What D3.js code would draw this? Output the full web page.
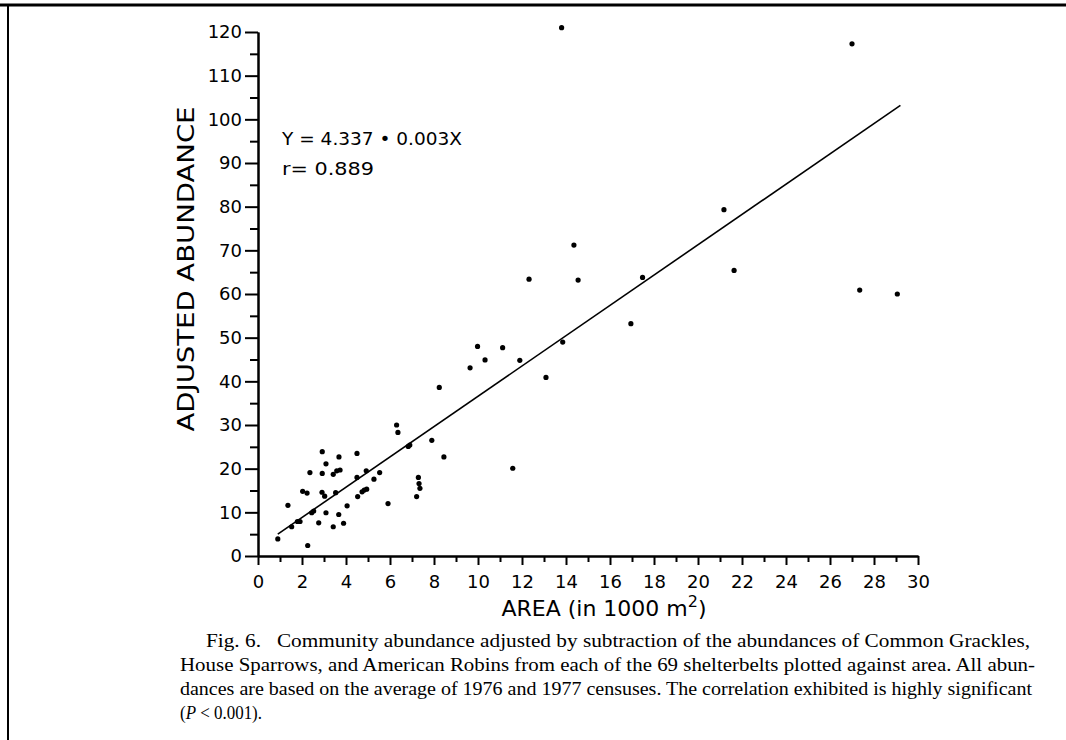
<!DOCTYPE html>
<head>
<meta charset="utf-8">
<script src="https://d3js.org/d3.v7.min.js"></script>
</head>
<style>
body { margin: 0; background: #fff; }
.axis path, .axis line { stroke: #000; stroke-width: 2px; }
.axis text { font-family: "DejaVu Sans", sans-serif; font-size: 18px; fill: #000; }
.label { font-family: "DejaVu Sans", sans-serif; fill: #000; }
.caption { font-family: "Liberation Serif", serif; font-size: 19px; fill: #000; }
.fitline { fill: none; stroke: #000; stroke-width: 1.6px; }
</style>
<body>
<script>
// area in 1000 m2, adjusted abundance
var area = [0.9, 1.36, 1.53, 1.79, 1.91, 2.26, 2.36, 2.03, 2.23, 2.44, 2.53, 2.92, 3.09, 2.92, 2.91,
  3.03, 2.76, 3.09, 3.42, 3.42, 3.58, 3.73, 3.68, 3.53, 3.67, 3.89, 4.05, 4.5, 4.5, 4.53,
  4.73, 4.83, 4.94, 4.92, 5.27, 5.53, 5.91, 6.3, 6.36, 6.83, 6.9, 7.29, 7.32, 7.36, 7.21,
  7.9, 8.45, 8.24, 9.64, 9.98, 10.32, 11.12, 11.9, 11.58, 13.09, 13.85, 16.95, 12.32, 14.36,
  14.55, 17.48, 21.18, 21.64, 27.0, 27.35, 29.06, 13.8];
var abundance = [3.9, 11.6, 6.7, 7.9, 7.9, 2.4, 19.1, 14.8, 14.4, 9.9, 10.3, 23.9, 21.1, 18.9, 14.6,
  13.7, 7.6, 9.9, 6.7, 18.7, 19.5, 19.7, 22.7, 14.5, 9.5, 7.5, 11.5, 23.5, 18.0, 13.6,
  14.7, 15.1, 15.3, 19.5, 17.6, 19.1, 12.0, 30.0, 28.3, 25.1, 25.4, 18.0, 16.6, 15.5, 13.6,
  26.5, 22.7, 38.6, 43.1, 48.0, 44.9, 47.7, 44.8, 20.1, 40.9, 49.0, 53.2, 63.4, 71.2,
  63.2, 63.8, 79.3, 65.4, 117.3, 60.9, 60.0, 121];
var lineX = [0.9, 29.2];
var lineY = [5.0, 103.2];
var xMajor = d3.range(0, 31, 2);
var xMinor = d3.range(1, 30, 2);
var yMajor = d3.range(0, 121, 10);
var yMinor = d3.range(5, 120, 10);
var equation = ["Y = 4.337 \u2022 0.003X", "r= 0.889"];
var caption = [
  "Fig. 6.   Community abundance adjusted by subtraction of the abundances of Common Grackles,",
  "House Sparrows, and American Robins from each of the 69 shelterbelts plotted against area. All abun-",
  "dances are based on the average of 1976 and 1977 censuses. The correlation exhibited is highly significant"
];

var width = 1066, height = 740;
var x = d3.scaleLinear().domain([0, 30]).range([258, 918]);
var y = d3.scaleLinear().domain([0, 120]).range([556, 32]);

var svg = d3.select("body").append("svg")
    .attr("width", width)
    .attr("height", height);
svg.append("rect").attr("width", width).attr("height", height).attr("fill", "#fff");

// frame edges of the scanned page
svg.append("line").attr("x1", 0).attr("x2", width).attr("y1", 5).attr("y2", 5)
    .attr("stroke", "#000").attr("stroke-width", 3);
svg.append("line").attr("x1", 8).attr("x2", 8).attr("y1", 5).attr("y2", height)
    .attr("stroke", "#000").attr("stroke-width", 2);

// axes
svg.append("g").attr("class", "axis")
    .attr("transform", "translate(0," + y(0) + ")")
    .call(d3.axisBottom(x).tickValues(xMinor).tickSize(6).tickFormat("").tickSizeOuter(0));
svg.append("g").attr("class", "axis")
    .attr("transform", "translate(0," + y(0) + ")")
    .call(d3.axisBottom(x).tickValues(xMajor).tickSize(9).tickPadding(10).tickSizeOuter(0));
svg.append("g").attr("class", "axis")
    .attr("transform", "translate(" + x(0) + ",0)")
    .call(d3.axisLeft(y).tickValues(yMinor).tickSize(8).tickFormat("").tickSizeOuter(0));
svg.append("g").attr("class", "axis")
    .attr("transform", "translate(" + x(0) + ",0)")
    .call(d3.axisLeft(y).tickValues(yMajor).tickSize(13).tickPadding(3).tickSizeOuter(0));

// axis titles
svg.append("text").attr("class", "label")
    .attr("transform", "translate(194," + ((y(0) + y(120)) / 2 - 25) + ") rotate(-90)")
    .attr("text-anchor", "middle")
    .attr("font-size", 23)
    .attr("textLength", 325)
    .attr("lengthAdjust", "spacingAndGlyphs")
    .text("ADJUSTED ABUNDANCE");
var xt = svg.append("text").attr("class", "label")
    .attr("x", 604).attr("y", 616)
    .attr("text-anchor", "middle")
    .attr("font-size", 22);
xt.append("tspan").text("AREA  (in 1000 m");
xt.append("tspan").attr("dy", -9).attr("font-size", 16).text("2");
xt.append("tspan").attr("dy", 9).text(")");

// equation
var eqW = [180, 92];
svg.selectAll(".eq").data(equation).enter().append("text")
    .attr("class", "label eq")
    .attr("x", 282)
    .attr("y", function(d, i) { return 145 + i * 30; })
    .attr("font-size", 18)
    .attr("textLength", function(d, i) { return eqW[i]; })
    .attr("lengthAdjust", "spacingAndGlyphs")
    .text(function(d) { return d; });

// regression line
svg.append("line").attr("class", "fitline")
    .attr("x1", x(lineX[0])).attr("y1", y(lineY[0]))
    .attr("x2", x(lineX[1])).attr("y2", y(lineY[1]));

// points
svg.selectAll(".pt").data(area).enter().append("circle")
    .attr("class", "pt")
    .attr("cx", function(d) { return x(d); })
    .attr("cy", function(d, i) { return y(abundance[i]); })
    .attr("r", 2.6)
    .attr("fill", "#000");

// caption
var capX = [206, 180, 180];
var capW = [824, 855, 852];
svg.selectAll(".caption").data(caption).enter().append("text")
    .attr("class", "caption")
    .attr("x", function(d, i) { return capX[i]; })
    .attr("y", function(d, i) { return 647 + i * 24; })
    .attr("textLength", function(d, i) { return capW[i]; })
    .attr("lengthAdjust", "spacingAndGlyphs")
    .attr("xml:space", "preserve")
    .text(function(d) { return d; });
var last = svg.append("text").attr("class", "caption")
    .attr("x", 180).attr("y", 647 + 3 * 24)
    .attr("textLength", 82)
    .attr("lengthAdjust", "spacingAndGlyphs");
last.append("tspan").text("(");
last.append("tspan").attr("font-style", "italic").text("P");
last.append("tspan").text(" < 0.001).");
</script>
</body>
